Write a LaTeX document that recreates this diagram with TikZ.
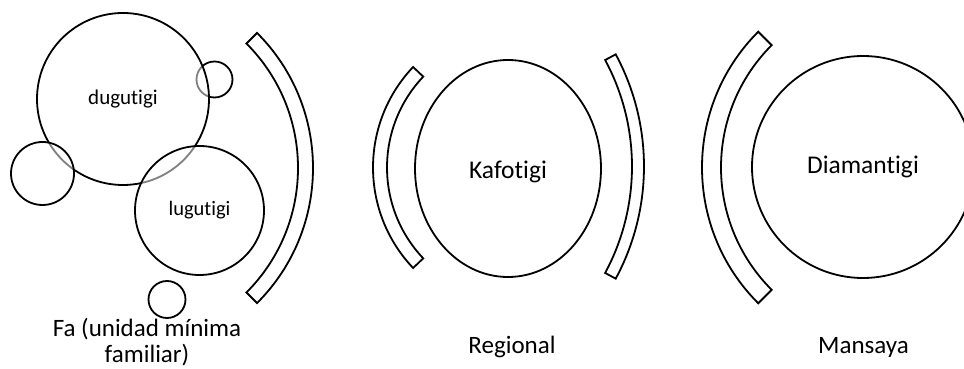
\documentclass[tikz,border=0pt]{standalone}
\usepackage{fontspec}
\setmainfont{Carlito}[Ligatures={NoCommon}]
\usetikzlibrary{shapes.geometric}

\begin{document}
\begin{tikzpicture}[x=1pt, y=1pt, line width=1.8pt,
  ring/.style={draw, circle, inner sep=0pt, fill=white, fill opacity=0.5, text opacity=1},
  oval/.style={draw, ellipse, inner sep=0pt},
  band/.style={draw, fill=white, line join=miter},
  caption/.style={font=\fontsize{25}{26}\selectfont, align=center},
  smalltext/.style={font=\fontsize{21}{24}\selectfont},
  bigtext/.style={font=\fontsize{25.5}{28}\selectfont}]
\useasboundingbox (0,0) rectangle (964,369);
\clip (0,0) rectangle (964,369);

% --- family level ---
\node[ring, minimum size=36pt] (topdot) at (214.5,289.5) {};
\node[ring, minimum size=172pt, smalltext] (dugu) at (123,270) {dugutigi};
\node[ring, minimum size=63pt] (leftdot) at (42.5,195.5) {};
\node[ring, minimum size=129pt, font=\fontsize{20.5}{24}\selectfont] (lugu) at (199.5,158.5) {lugutigi};
\node[ring, minimum size=37pt] (lowdot) at (167,69.5) {};
\draw[band] ([shift={(122,201)}]-45:191) arc[start angle=-45, end angle=45, radius=191]
  -- ([shift={(122,201)}]45:176) arc[start angle=45, end angle=-45, radius=176] -- cycle;
\node[caption, anchor=base] (fa) at (147,6.5) {Fa (unidad mínima\\familiar)};

% --- regional level ---
\draw[band] ([shift={(519,201.5)}]136.5:146) arc[start angle=136.5, end angle=223.5, radius=146]
  -- ([shift={(519,201.5)}]223.5:132) arc[start angle=223.5, end angle=136.5, radius=132] -- cycle;
\draw[band] ([shift={(407.4,202.5)}]-28.3:236.6) arc[start angle=-28.3, end angle=28.3, radius=236.6]
  -- ([shift={(407.4,202.5)}]28.3:224.6) arc[start angle=28.3, end angle=-28.3, radius=224.6] -- cycle;
\node[oval, minimum width=186pt, minimum height=217pt] (kafo) at (508,200.5) {};
\node[bigtext] (kafolabel) at (508,197) {Kafotigi};
\node[caption, anchor=base] (reg) at (512,15) {Regional};

% --- mansaya level ---
\draw[band] ([shift={(894,201.5)}]135:192) arc[start angle=135, end angle=225, radius=192]
  -- ([shift={(894,201.5)}]225:173) arc[start angle=225, end angle=135, radius=173] -- cycle;
\node[draw, circle, inner sep=0pt, minimum size=222pt, bigtext] (diam) at (863,202) {Diamantigi};
\node[caption, anchor=base] (man) at (863.5,15) {Mansaya};
\end{tikzpicture}
\end{document}
